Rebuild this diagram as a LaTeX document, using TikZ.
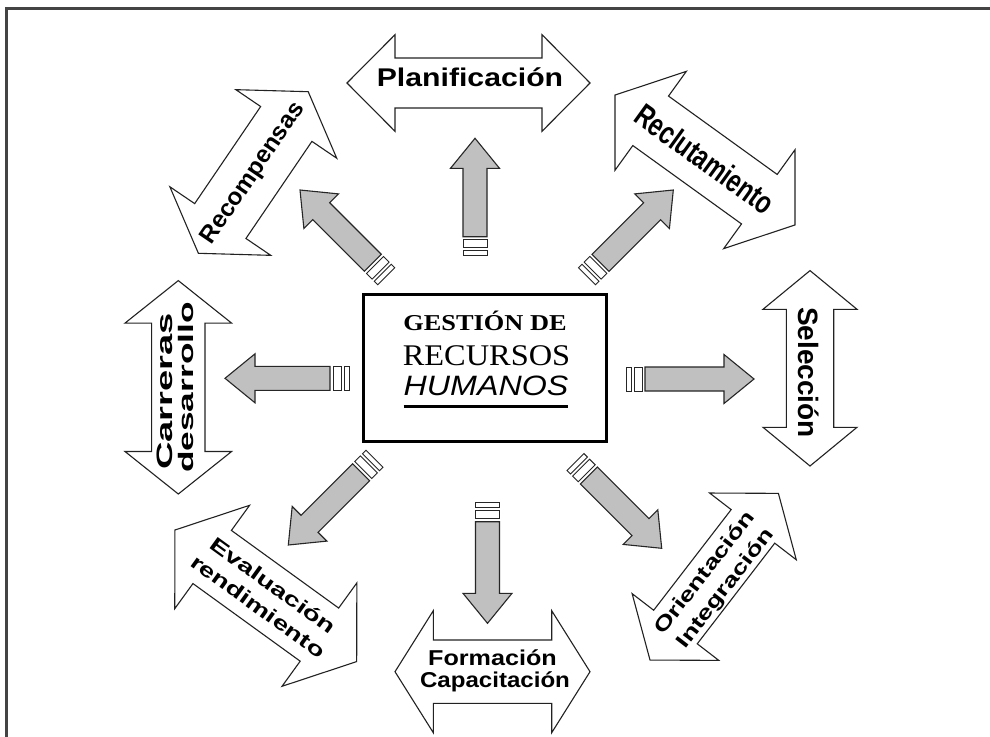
\documentclass[tikz,border=0pt]{standalone}
\usepackage{fontspec}
\newfontfamily\fA{Liberation Sans}
\newfontfamily\fT{Liberation Serif}
\definecolor{grayfill}{HTML}{C0C0C0}
\definecolor{edgecol}{HTML}{222222}
\definecolor{framecol}{HTML}{444444}
\tikzset{
  whitearrow/.style={draw=edgecol, fill=white, line width=1.1pt, line join=miter},
  grayarrow/.style={draw=black!85, fill=grayfill, line width=1.1pt},
  bandbox/.style={draw=black!85, fill=white, line width=0.9pt},
  lbl/.style={inner sep=0pt, outer sep=0pt, text=black},
  centerbox/.style={draw=black, line width=3pt, minimum width=243.4pt, minimum height=146.7pt, inner sep=0pt},
  uline/.style={line width=2.6pt, draw=black},
  framestyle/.style={draw=framecol, line width=2.5pt}
}
% white double arrow: x, y, angle, half length, head length, head half width, shaft half width
\newcommand\dblarrow[7]{%
  \begin{scope}[shift={(#1,#2)}, rotate=#3]
    \draw[whitearrow] (-#4,0) -- ({-#4+#5},#6) -- ({-#4+#5},#7) -- ({#4-#5},#7) -- ({#4-#5},#6) -- (#4,0)
      -- ({#4-#5},-#6) -- ({#4-#5},-#7) -- ({-#4+#5},-#7) -- ({-#4+#5},-#6) -- cycle;
  \end{scope}}
% gray arrow: tip x, tip y, angle, shaft end distance
\newcommand\grayarr[4]{%
  \begin{scope}[shift={(#1,#2)}, rotate=#3]
    \draw[grayarrow] (0,0) -- (-30,24.5) -- (-30,12) -- (-#4,12) -- (-#4,-12) -- (-30,-12) -- (-30,-24.5) -- cycle;
    \draw[bandbox] ({-#4-3},-12) rectangle ({-#4-11},12);
    \draw[bandbox] ({-#4-14},-12) rectangle ({-#4-19},12);
  \end{scope}}
% label: name, x, y (cap middle), angle, font size, x stretch, text
\newcommand\walabel[7]{%
  \begin{scope}[shift={(#2,#3)}, rotate=#4]
    \node[lbl, anchor=base, transform shape] (#1) at (0,{0.36*#5})
      {\fA\bfseries\fontsize{#5pt}{#5pt}\selectfont\scalebox{#6}[1]{#7}};
  \end{scope}}
\begin{document}
\begin{tikzpicture}[x=1pt, y=-1pt]
  \useasboundingbox (0,0) rectangle (990,736);
  \clip (0,0) rectangle (990,736);
  \fill[white] (0,0) rectangle (990,736);
  \draw[framestyle] (6.3,745) -- (6.3,8.7) -- (1000,8.7);

  % white double arrows
  \dblarrow{468.5}{83}{0}{121.5}{48}{48.3}{25}
  \dblarrow{810}{368.3}{90}{97.7}{38.7}{47}{23.7}
  \dblarrow{178.3}{387.3}{90}{106.7}{42.5}{53.3}{26.7}
  \dblarrow{253.3}{172.5}{55.8}{97.7}{39}{61}{31}
  \dblarrow{705}{160}{-35.8}{111}{44}{61}{30.5}
  \dblarrow{265.8}{595.8}{-35.9}{112.2}{46}{63.8}{32.8}
  \dblarrow{714.2}{576.7}{52.4}{105.2}{41.7}{54.7}{27.5}
  \dblarrow{492.5}{671.7}{0}{97.5}{38.3}{61}{31.7}

  % gray arrows
  \grayarr{475}{138.3}{90}{98.4}
  \grayarr{754}{379}{0}{109}
  \grayarr{225}{378.3}{180}{105}
  \grayarr{487.5}{623.3}{270}{101.6}
  \grayarr{300}{190}{135}{103}
  \grayarr{673.3}{190}{45}{103}
  \grayarr{288.3}{545}{225}{103}
  \grayarr{661.7}{548.3}{315}{103}

  % centre box
  \node[centerbox] (box) at (485,368.3) {};
  \node[lbl, anchor=base] (gest) at (485,330) {\fT\bfseries\fontsize{22.7pt}{22.7pt}\selectfont\scalebox{1.16}[1]{GESTIÓN DE}};
  \node[lbl, anchor=base] (recu) at (486.5,365) {\fT\fontsize{30pt}{30pt}\selectfont\scalebox{1.08}[1]{RECURSOS}};
  \node[lbl, anchor=base] (huma) at (486,395) {\fA\itshape\fontsize{28pt}{28pt}\selectfont\scalebox{1.15}[1]{HUMANOS}};
  \draw[uline] ([yshift=-11.5pt]huma.base west) -- ([yshift=-11.5pt]huma.base east);

  % labels
  \walabel{plan}{470}{77.5}{0}{25.6}{1.18}{Planificación}
  \walabel{sel}{809}{372.5}{-90}{28}{1.0}{Selección}
  \walabel{carr}{164.7}{391.5}{90}{22.3}{1.71}{Carreras}
  \walabel{desa}{185.5}{387.5}{90}{21}{1.68}{desarrollo}
  \walabel{recomp}{251}{172}{55.8}{24}{1.02}{Recompensas}
  \walabel{reclu}{705}{159}{-35.8}{32}{0.74}{Reclutamiento}
  \walabel{eval}{273.4}{585.3}{-35.9}{20}{1.42}{Evaluación}
  \walabel{rend}{258.2}{606.3}{-35.9}{20}{1.4}{rendimiento}
  \walabel{orie}{703.7}{572.1}{52.4}{20}{1.35}{Orientación}
  \walabel{inte}{724.3}{587.9}{52.4}{20}{1.35}{Integración}
  \walabel{form}{492.5}{657.5}{0}{21.5}{1.17}{Formación}
  \walabel{capa}{495}{680}{0}{21.5}{1.12}{Capacitación}
\end{tikzpicture}
\end{document}
